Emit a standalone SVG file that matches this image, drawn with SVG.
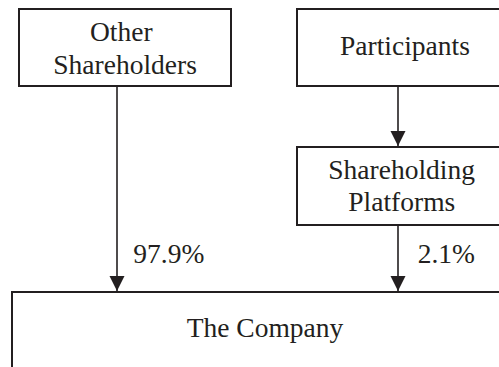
<svg xmlns="http://www.w3.org/2000/svg" width="499" height="367" viewBox="0 0 499 367">
<style>
.box{fill:#fff;stroke:#231f20;stroke-width:2}
.t{font-family:"Liberation Serif","Times New Roman",serif;font-size:27.5px;fill:#231f20}
.c{stroke:#231f20;stroke-width:1.6;fill:none}
</style>
<defs>
<marker id="ah" markerUnits="userSpaceOnUse" markerWidth="16" markerHeight="16" viewBox="0 0 16 16" refX="15" refY="8" orient="auto">
<path d="M0,0.5 L15,8 L0,15.5 Z" fill="#231f20"/>
</marker>
</defs>
<rect width="499" height="367" fill="#fff"/>
<g id="other">
<rect class="box" x="19" y="9" width="212" height="77"/>
<text class="t" x="90" y="40.5">Other</text>
<text class="t" x="53.3" y="74">Shareholders</text>
</g>
<g id="participants">
<rect class="box" x="297" y="9" width="240" height="77"/>
<text class="t" x="340" y="55">Participants</text>
</g>
<g id="platforms">
<rect class="box" x="297" y="147" width="240" height="78"/>
<text class="t" x="328.3" y="179">Shareholding</text>
<text class="t" x="348.3" y="210.7">Platforms</text>
</g>
<g id="company">
<rect class="box" x="12" y="292" width="560" height="120"/>
<text class="t" x="186.7" y="337">The Company</text>
</g>
<g id="connectors">
<line class="c" x1="117" y1="86" x2="117" y2="291" marker-end="url(#ah)"/>
<line class="c" x1="398" y1="86" x2="398" y2="146" marker-end="url(#ah)"/>
<line class="c" x1="398" y1="225" x2="398" y2="291" marker-end="url(#ah)"/>
<text class="t" x="133.3" y="263">97.9%</text>
<text class="t" x="417.7" y="263">2.1%</text>
</g>
</svg>
